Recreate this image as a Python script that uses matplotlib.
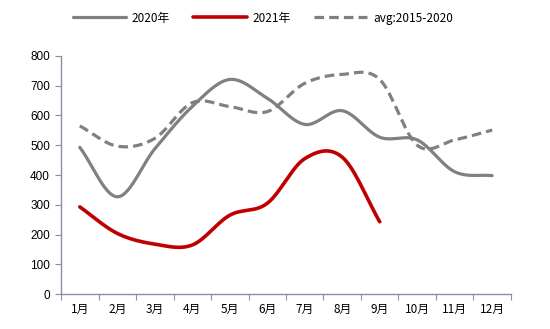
import numpy as np
import matplotlib
matplotlib.use("Agg")
from matplotlib import pyplot as plt

plt.rcParams['font.family'] = ['Noto Sans CJK SC', 'DejaVu Sans']

months = ['1月', '2月', '3月', '4月', '5月', '6月', '7月', '8月', '9月', '10月', '11月', '12月']
y2020 = [493, 327, 488, 630, 721, 658, 570, 616, 527, 518, 411, 398]
y2021 = [293, 204, 168, 165, 265, 305, 455, 460, 243]
avg = [565, 497, 523, 643, 630, 613, 708, 738, 721, 500, 518, 551]


def smooth(xs, ys, n=30):
    # catmull-rom curve through the points, like excel's smoothed lines
    xs = np.asarray(xs, float)
    ys = np.asarray(ys, float)
    px = np.concatenate([[2 * xs[0] - xs[1]], xs, [2 * xs[-1] - xs[-2]]])
    py = np.concatenate([[2 * ys[0] - ys[1]], ys, [2 * ys[-1] - ys[-2]]])
    t = np.linspace(0, 1, n)
    ox, oy = [], []
    for i in range(1, len(px) - 2):
        for p, o in ((px, ox), (py, oy)):
            p0, p1, p2, p3 = p[i - 1], p[i], p[i + 1], p[i + 2]
            seg = 0.5 * ((2 * p1) + (-p0 + p2) * t + (2 * p0 - 5 * p1 + 4 * p2 - p3) * t ** 2
                         + (-p0 + 3 * p1 - 3 * p2 + p3) * t ** 3)
            o.extend(seg)
    return ox, oy


fig = plt.figure(figsize=(5.5, 3.29), dpi=100)
ax = fig.add_axes([0.111, 0.106, 0.818, 0.724])

x = np.arange(12) + 0.5
sx, sy = smooth(x, y2020)
ax.plot(sx, sy, color='#808080', lw=2.3, label='2020年', solid_capstyle='round')
sx, sy = smooth(x[:len(y2021)], y2021)
ax.plot(sx, sy, color='#C00000', lw=2.6, label='2021年', solid_capstyle='round')
sx, sy = smooth(x, avg)
ax.plot(sx, sy, color='#808080', lw=2.3, ls=(0, (3.0, 1.6)), label='avg:2015-2020')

ax.set_xlim(0, 12)
ax.set_ylim(0, 800)
ax.set_yticks(range(0, 801, 100))
ax.set_xticks(range(13))
ax.set_xticklabels([])
ax.set_xticks(x, minor=True)
ax.set_xticklabels(months, minor=True, fontweight='medium')
ax.tick_params(axis='x', which='minor', length=0, pad=6, labelsize=8.5)
ax.tick_params(axis='x', which='major', length=4, direction='out', color='#8c8ca8')
ax.tick_params(axis='y', length=4, direction='out', color='#8c8ca8', labelsize=8.5, pad=4)
for lab in ax.get_yticklabels():
    lab.set_family(['Liberation Sans', 'DejaVu Sans'])
for s in ['top', 'right']:
    ax.spines[s].set_visible(False)
for s in ['left', 'bottom']:
    ax.spines[s].set_color('#8c8ca8')
    ax.spines[s].set_linewidth(1.0)

leg = fig.legend(loc='center', bbox_to_anchor=(0.478, 0.945), ncol=3, frameon=False,
                 handlelength=4.5, columnspacing=2.0, handletextpad=0.5,
                 prop={'size': 8.5, 'weight': 'medium'})

fig.savefig('out.png', dpi=100)
